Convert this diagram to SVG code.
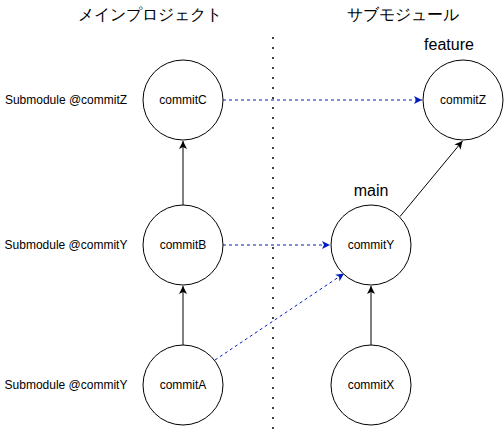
<svg xmlns="http://www.w3.org/2000/svg" width="504" height="433" viewBox="0 0 504 433">
<style>
text{font-family:"Liberation Sans",Arial,sans-serif;fill:#000}
.t{font-size:16px;text-anchor:middle}
.n{font-size:12px;text-anchor:middle}
.s{font-size:12px;text-anchor:middle}
.c{fill:#fff;stroke:#000;stroke-width:1}
.e{fill:none;stroke:#000;stroke-width:1}
.b{fill:none;stroke:#001DBC;stroke-width:1;stroke-dasharray:3 3}
</style>
<defs>
<marker id="ak" markerWidth="10" markerHeight="10" viewBox="-8 -5 10 10" refX="0" refY="0" orient="auto" markerUnits="userSpaceOnUse"><path d="M0,0 L-8,-4 L-6,0 L-8,4 Z" fill="#000"/></marker>
<marker id="ab" markerWidth="10" markerHeight="10" viewBox="-8 -5 10 10" refX="0" refY="0" orient="auto" markerUnits="userSpaceOnUse"><path d="M0,0 L-8,-4 L-6,0 L-8,4 Z" fill="#001DBC"/></marker>
</defs>
<g id="titles">
<text class="t" x="150" y="20">メインプロジェクト</text>
<text class="t" x="403" y="20">サブモジュール</text>
</g>
<g id="divider"><line x1="273" y1="38" x2="273" y2="433" stroke="#000" stroke-width="2" stroke-linecap="round" stroke-dasharray="0 10"/></g>
<g id="labels">
<text class="s" x="66" y="104">Submodule @commitZ</text>
<text class="s" x="66" y="249">Submodule @commitY</text>
<text class="s" x="66" y="389">Submodule @commitY</text>
<text class="t" x="449" y="50">feature</text>
<text class="t" x="371" y="196">main</text>
</g>
<g id="connectors">
<line class="e" x1="183" y1="205" x2="183" y2="141" marker-end="url(#ak)"/>
<line class="e" x1="183" y1="345" x2="183" y2="286" marker-end="url(#ak)"/>
<line class="e" x1="371" y1="345" x2="371" y2="286" marker-end="url(#ak)"/>
<line class="e" x1="400" y1="216.5" x2="462.5" y2="141" marker-end="url(#ak)"/>
<line class="b" x1="223" y1="100" x2="422" y2="100" marker-end="url(#ab)"/>
<line class="b" x1="223" y1="245" x2="330" y2="245" marker-end="url(#ab)"/>
<line class="b" x1="215" y1="360" x2="344" y2="273.5" marker-end="url(#ab)"/>
</g>
<g id="commitC"><circle class="c" cx="183" cy="100" r="40"/><text class="n" x="183" y="104">commitC</text></g>
<g id="commitB"><circle class="c" cx="183" cy="245" r="40"/><text class="n" x="183" y="249">commitB</text></g>
<g id="commitA"><circle class="c" cx="183" cy="385" r="40"/><text class="n" x="183" y="389">commitA</text></g>
<g id="commitZ"><circle class="c" cx="463" cy="100" r="40"/><text class="n" x="463" y="104">commitZ</text></g>
<g id="commitY"><circle class="c" cx="371" cy="245" r="40"/><text class="n" x="371" y="249">commitY</text></g>
<g id="commitX"><circle class="c" cx="371" cy="385" r="40"/><text class="n" x="371" y="389">commitX</text></g>
</svg>
